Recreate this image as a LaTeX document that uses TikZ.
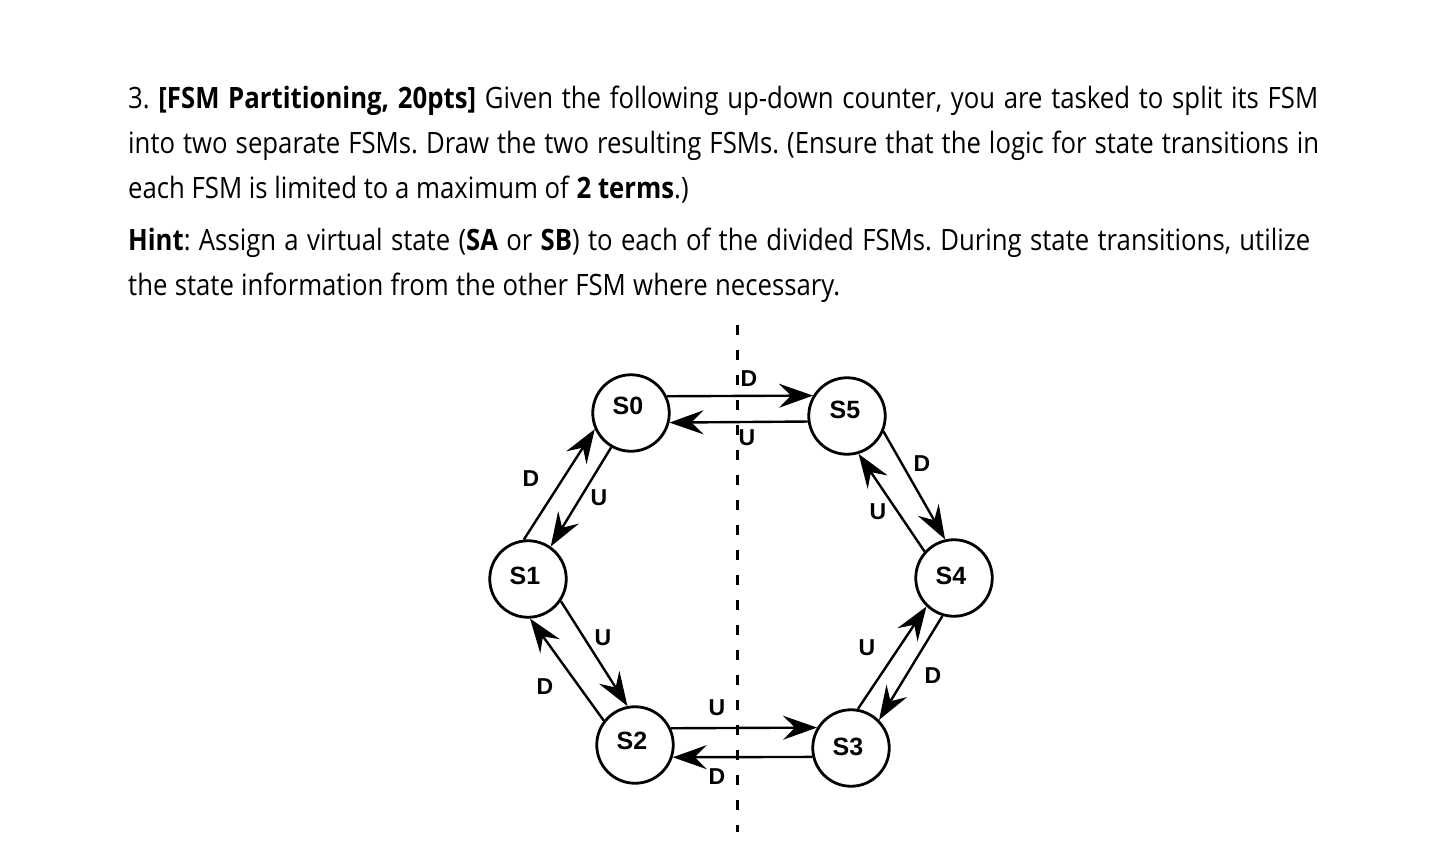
\documentclass[tikz,border=0pt]{standalone}
\usepackage{fontspec}
\setmainfont{Open Sans}[FakeStretch=0.875]
\newfontfamily\arialf{Liberation Sans}
\usetikzlibrary{arrows.meta}
\frenchspacing
\begin{document}
\begin{tikzpicture}[x=1bp,y=-1bp,
  state/.style={circle, draw, line width=2.8bp, minimum size=76.5bp, inner sep=0pt},
  slab/.style={font=\arialf\bfseries\fontsize{25bp}{25bp}\selectfont, inner sep=0pt},
  elab/.style={font=\arialf\bfseries\fontsize{23bp}{23bp}\selectfont, inner sep=0pt},
  arr/.style={line width=2.4bp, -{Stealth[length=34bp,width=24bp,inset=12bp]}},
  para/.style={anchor=base west, inner sep=0pt, font=\fontsize{29.4bp}{35bp}\selectfont},
  divider/.style={line width=3bp, dash pattern=on 10bp off 15bp}
]
\useasboundingbox[fill=white] (0,0) rectangle (1440,843);

\node[para] (l1) at (128,108) {\makebox[1190bp][s]{3. \textbf{[FSM Partitioning, 20pts]} Given the following up-down counter, you are tasked to split its FSM}};
\node[para] (l2) at (128,153) {\makebox[1191bp][s]{into two separate FSMs. Draw the two resulting FSMs. (Ensure that the logic for state transitions in}};
\node[para] (l3) at (128,198) {each FSM is limited to a maximum of \textbf{2 terms}.)};
\node[para] (l4) at (128,250) {\makebox[1182bp][s]{\textbf{Hint}: Assign a virtual state (\textbf{SA} or \textbf{SB}) to each of the divided FSMs. During state transitions, utilize}};
\node[para] (l5) at (128,295) {\makebox[712bp][s]{the state information from the other FSM where necessary.}};

\coordinate (dtop) at (737,325);
\coordinate (dbot) at (737,832);
\draw[divider] (dtop) -- (dbot);

\node[state, label={[slab, yshift=7bp, xshift=-3bp]center:S0}] (S0) at (631,413) {};
\node[state, label={[slab, yshift=6bp, xshift=-2bp]center:S5}] (S5) at (847,416) {};
\node[state, label={[slab, yshift=3bp, xshift=-3bp]center:S1}] (S1) at (528,579) {};
\node[state, label={[slab, yshift=2bp, xshift=-3bp]center:S4}] (S4) at (954,578) {};
\node[state, label={[slab, yshift=4bp, xshift=-3bp]center:S2}] (S2) at (635,745) {};
\node[state, label={[slab, yshift=1.5bp, xshift=-3bp]center:S3}] (S3) at (851,748) {};

\draw[arr] (S0.25.3) -- (S5.149.8);
\draw[arr] (S5.188.7) -- (S0.346.9);
\draw[arr] (S2.25.3) -- (S3.149.8);
\draw[arr] (S3.193.1) -- (S2.342.4);
\draw[arr] (S1.96.6) -- (S0.204.5);
\draw[arr] (S0.240.4) -- (S1.55.8);
\draw[arr] (S1.326) -- (S2.101.3);
\draw[arr] (S2.142.2) -- (S1.273.9);
\draw[arr] (S5.337.6) -- (S4.103.5);
\draw[arr] (S4.138.3) -- (S5.287.6);
\draw[arr] (S3.80) -- (S4.226.2);
\draw[arr] (S4.253.4) -- (S3.45.6);

\node[elab] (eD05) at (749,379) {D};
\node[elab] (eU50) at (747,438) {U};
\node[elab] (eD10) at (531,479) {D};
\node[elab] (eU01) at (599,498) {U};
\node[elab] (eD54) at (922,464) {D};
\node[elab] (eU45) at (878,512) {U};
\node[elab] (eU12) at (603,638) {U};
\node[elab] (eD21) at (545,687) {D};
\node[elab] (eU34) at (867,648) {U};
\node[elab] (eD43) at (933,676) {D};
\node[elab] (eU23) at (717,708) {U};
\node[elab] (eD32) at (717,777) {D};
\end{tikzpicture}
\end{document}
